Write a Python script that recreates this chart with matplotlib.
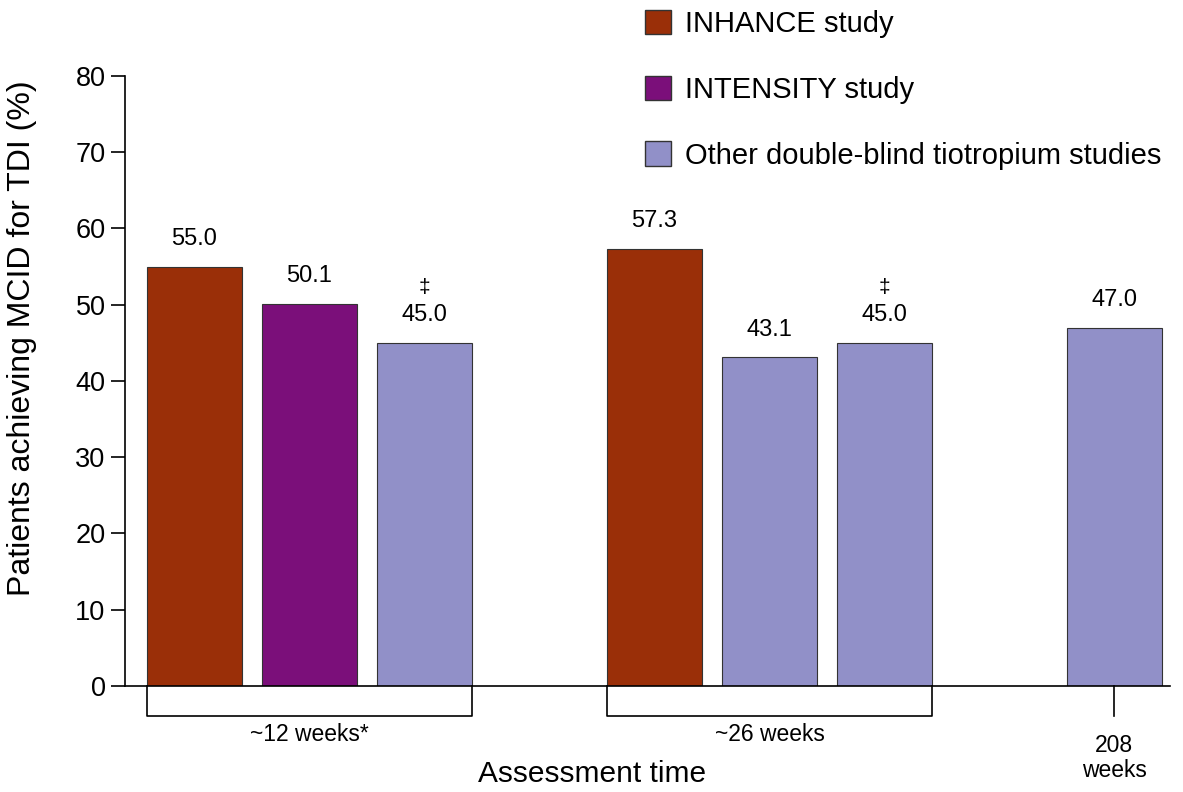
import matplotlib.pyplot as plt
import matplotlib.transforms as mtransforms
from matplotlib.patches import Patch

plt.rcParams['font.family'] = ['Liberation Sans', 'DejaVu Sans']

# data
studies = ["INHANCE study", "INTENSITY study", "Other double-blind tiotropium studies"]
colors = ["#9a2f08", "#7b0f7a", "#9190c8"]
bar_pos = [0, 1, 2, 4, 5, 6, 8]
bar_vals = [55.0, 50.1, 45.0, 57.3, 43.1, 45.0, 47.0]
bar_study = [0, 1, 2, 0, 2, 2, 2]
bar_marks = ["", "", "\u2021", "", "", "\u2021", ""]
groups = ["~12 weeks*", "~26 weeks", "208\nweeks"]
group_span = [(0, 2), (4, 6), (8, 8)]

width = 0.826

fig = plt.figure(figsize=(11.83, 7.92), dpi=100)
ax = fig.add_axes([0.1057, 0.134, 0.883, 0.770])

for x, v, s, m in zip(bar_pos, bar_vals, bar_study, bar_marks):
    ax.bar(x, v, width=width, color=colors[s], edgecolor="#333333", linewidth=0.8)
    ax.text(x, v + 2.2, f"{v:.1f}", ha="center", va="bottom", fontsize=17)
    if m:
        ax.text(x, v + 6.0, m, ha="center", va="bottom", fontsize=15)

ax.set_xlim(-0.604, 8.48)
ax.set_ylim(0, 80)
ax.set_yticks(range(0, 81, 10))
ax.tick_params(axis="y", labelsize=19.5, length=10, width=1.2, pad=4)
ax.set_xticks([])
for side in ["top", "right"]:
    ax.spines[side].set_visible(False)
ax.spines["left"].set_linewidth(1.2)
ax.spines["bottom"].set_linewidth(1.2)

ax.set_ylabel("Patients achieving MCID for TDI (%)", fontsize=23, va="center")
ax.yaxis.set_label_coords(-0.0986, 0.57)

# brackets under the axis
trans = mtransforms.blended_transform_factory(ax.transData, ax.transAxes)
yb = -0.049
for (a, b), lab in zip(group_span, groups):
    if a == b:
        ax.plot([a, a], [0, yb], color="black", lw=1.2, transform=trans, clip_on=False)
        ax.text(a, yb - 0.03, lab, ha="center", va="top", fontsize=16.5,
                transform=trans, linespacing=1.1)
    else:
        l, r = a - width / 2, b + width / 2
        ax.plot([l, l, r, r], [0, yb, yb, 0], color="black", lw=1.2,
                transform=trans, clip_on=False)
        ax.text((l + r) / 2, yb - 0.012, lab, ha="center", va="top", fontsize=16.5,
                transform=trans)

fig.text(0.5004, 0.0227, "Assessment time", ha="center", va="center", fontsize=21.5)

handles = [Patch(facecolor=c, edgecolor="#333333", label=s) for c, s in zip(colors, studies)]
fig.legend(handles=handles, loc="upper left", bbox_to_anchor=(0.540, 0.995),
           frameon=False, fontsize=21, handlelength=0.9, handleheight=0.9,
           labelspacing=1.29, handletextpad=0.5, borderpad=0.2, borderaxespad=0)

fig.savefig("out.png", dpi=100)
